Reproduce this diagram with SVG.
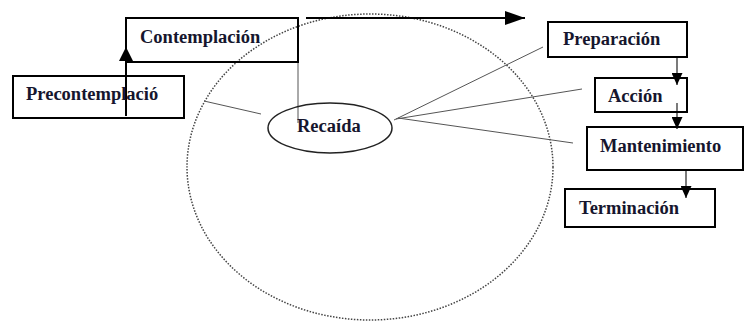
<svg xmlns="http://www.w3.org/2000/svg" width="749" height="323" viewBox="0 0 749 323">
<style>
.box{fill:none;stroke:#000;stroke-width:2}
.lbl{font-family:"Liberation Serif","Times New Roman",serif;font-weight:bold;font-size:18.5px;fill:#16162e}
.thin{stroke:#555;stroke-width:1;fill:none}
.arr{stroke:#000;stroke-width:2;fill:none}
.arr1{stroke:#222;stroke-width:1.2;fill:none}
</style>
<defs>
<marker id="ah" markerWidth="12" markerHeight="11" refX="12" refY="5.5" orient="auto" markerUnits="userSpaceOnUse" viewBox="0 0 12 11">
<path d="M0,0 L12,5.5 L0,11 Z" fill="#000"/>
</marker>
<marker id="ahBig" markerWidth="20" markerHeight="14" refX="20" refY="7" orient="auto" markerUnits="userSpaceOnUse" viewBox="0 0 20 14">
<path d="M0,0 L20,7 L0,14 Z" fill="#000"/>
</marker>
<marker id="ahUp" markerWidth="14" markerHeight="14" refX="14" refY="7" orient="auto" markerUnits="userSpaceOnUse" viewBox="0 0 14 14">
<path d="M0,0 L14,7 L0,14 Z" fill="#000"/>
</marker>
</defs>
<rect width="749" height="323" fill="#fff"/>
<g id="ciclo">
<ellipse cx="370" cy="167" rx="183" ry="153" fill="none" stroke="#444" stroke-width="1.5" stroke-dasharray="1.5 1.5"/>
</g>
<g id="connectors">
<line class="thin" x1="298" y1="62" x2="298" y2="123"/>
<line class="thin" x1="204" y1="101" x2="261" y2="114"/>
<line class="thin" x1="394" y1="120" x2="543" y2="47"/>
<line class="thin" x1="396" y1="119" x2="582" y2="89"/>
<line class="thin" x1="398" y1="118" x2="573" y2="143"/>
<line class="arr" x1="306" y1="18" x2="525" y2="18" marker-end="url(#ahBig)"/>
<line class="arr" x1="126" y1="116" x2="126" y2="47" marker-end="url(#ahUp)"/>
<line class="arr1" x1="677" y1="57" x2="677" y2="85" marker-end="url(#ah)"/>
<line class="arr1" x1="677" y1="103" x2="677" y2="129" marker-end="url(#ah)"/>
<line class="arr1" x1="686" y1="170" x2="686" y2="198" marker-end="url(#ah)"/>
</g>
<g id="contemplacion">
<rect class="box" x="126" y="18" width="172" height="44"/>
<text class="lbl" x="140" y="43">Contemplación</text>
</g>
<g id="precontemplacion">
<rect class="box" x="13" y="76" width="171" height="42"/>
<text class="lbl" x="26" y="100">Precontemplació</text>
</g>
<g id="preparacion">
<rect class="box" x="548" y="22" width="139" height="35"/>
<text class="lbl" x="563" y="45">Preparación</text>
</g>
<g id="accion">
<rect class="box" x="595" y="78" width="92" height="34"/>
<text class="lbl" x="608" y="102">Acción</text>
</g>
<g id="mantenimiento">
<rect class="box" x="587" y="127" width="156" height="43"/>
<text class="lbl" x="600" y="152">Mantenimiento</text>
</g>
<g id="terminacion">
<rect class="box" x="565" y="189" width="150" height="38"/>
<text class="lbl" x="579" y="214">Terminación</text>
</g>
<g id="recaida">
<ellipse cx="330" cy="128" rx="62" ry="25" fill="none" stroke="#222" stroke-width="1.5"/>
<text class="lbl" x="297" y="132">Recaída</text>
</g>
</svg>
